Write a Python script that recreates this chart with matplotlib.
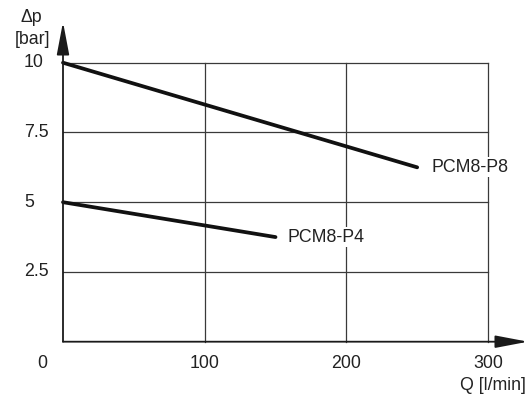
import matplotlib
matplotlib.use("Agg")
import matplotlib.pyplot as plt

plt.rcParams['font.family'] = ['Liberation Sans', 'DejaVu Sans']

# data
p8_q = [0, 250]
p8_dp = [10, 6.25]
p4_q = [0, 150]
p4_dp = [5, 3.75]
x_ticks = [100, 200, 300]
y_ticks = [2.5, 5, 7.5, 10]
y_tick_labels = ["2.5", "5", "7.5", "10"]
series_labels = ["PCM8-P8", "PCM8-P4"]

W, H = 530, 399
fig = plt.figure(figsize=(W / 100, H / 100), dpi=100)
x0, x1 = 63, 488
y0, y1 = 341.7, 62.7
ax = fig.add_axes([x0 / W, (H - y0) / H, (x1 - x0) / W, (y0 - y1) / H])
ax.set_xlim(0, 300)
ax.set_ylim(0, 10)
for s in ax.spines.values():
    s.set_visible(False)
ax.set_xticks([])
ax.set_yticks([])

grid_c = '#3a3a3a'
for xv in x_ticks:
    ax.plot([xv, xv], [0, 10], color=grid_c, lw=0.9, zorder=1, clip_on=False)
for yv in y_ticks:
    ax.plot([0, 300], [yv, yv], color=grid_c, lw=0.9, zorder=1, clip_on=False)

# axes arrows
ax.annotate('', xy=(0, (y0 - 22) / (y0 - y1)), xytext=(0, 0),
            xycoords='axes fraction', textcoords='axes fraction',
            arrowprops=dict(arrowstyle='-|>,head_length=2.0,head_width=0.38',
                            mutation_scale=10, color='#1a1a1a', lw=1.3,
                            shrinkA=0, shrinkB=0), annotation_clip=False, zorder=5)
ax.annotate('', xy=((528 - x0) / (x1 - x0), 0), xytext=(0, 0),
            xycoords='axes fraction', textcoords='axes fraction',
            arrowprops=dict(arrowstyle='-|>,head_length=2.0,head_width=0.38',
                            mutation_scale=10, color='#1a1a1a', lw=1.3,
                            shrinkA=0, shrinkB=0), annotation_clip=False, zorder=5)

# data lines
ax.plot(p8_q, p8_dp, color='#111111', lw=2.7, solid_capstyle='round', zorder=3, clip_on=False)
ax.plot(p4_q, p4_dp, color='#111111', lw=2.7, solid_capstyle='round', zorder=3, clip_on=False)

fs = 12.8
tc = '#222222'
ax.annotate(series_labels[0], xy=(p8_q[-1], p8_dp[-1]), xytext=(10, 0),
            textcoords='offset points', ha='left', va='center', fontsize=fs, color=tc,
            bbox=dict(facecolor='white', edgecolor='none', pad=1), zorder=4)
ax.annotate(series_labels[1], xy=(p4_q[-1], p4_dp[-1]), xytext=(8.5, 0),
            textcoords='offset points', ha='left', va='center', fontsize=fs, color=tc,
            bbox=dict(facecolor='white', edgecolor='none', pad=1), zorder=4)

# tick labels in pixel coordinates
def fx(px):
    return px / W

def fy(py):
    return (H - py) / H

for yv, lab in zip(y_ticks, y_tick_labels):
    py = y0 - (yv / 10) * (y0 - y1)
    fig.text(fx(24), fy(py), lab, ha='left', va='center', fontsize=fs, color=tc)
for xv in x_ticks:
    px = x0 + xv / 300 * (x1 - x0)
    fig.text(fx(px), fy(363), str(xv), ha='center', va='center', fontsize=fs, color=tc)
fig.text(fx(42), fy(363), "0", ha='center', va='center', fontsize=fs, color=tc)
fig.text(fx(526), fy(386), "Q [l/min]", ha='right', va='center', fontsize=fs, color=tc)
fig.text(fx(31), fy(18), "Δp", ha='center', va='center', fontsize=fs, color=tc)
fig.text(fx(32), fy(40), "[bar]", ha='center', va='center', fontsize=fs, color=tc)

fig.savefig("out.png", dpi=100, facecolor='white')
